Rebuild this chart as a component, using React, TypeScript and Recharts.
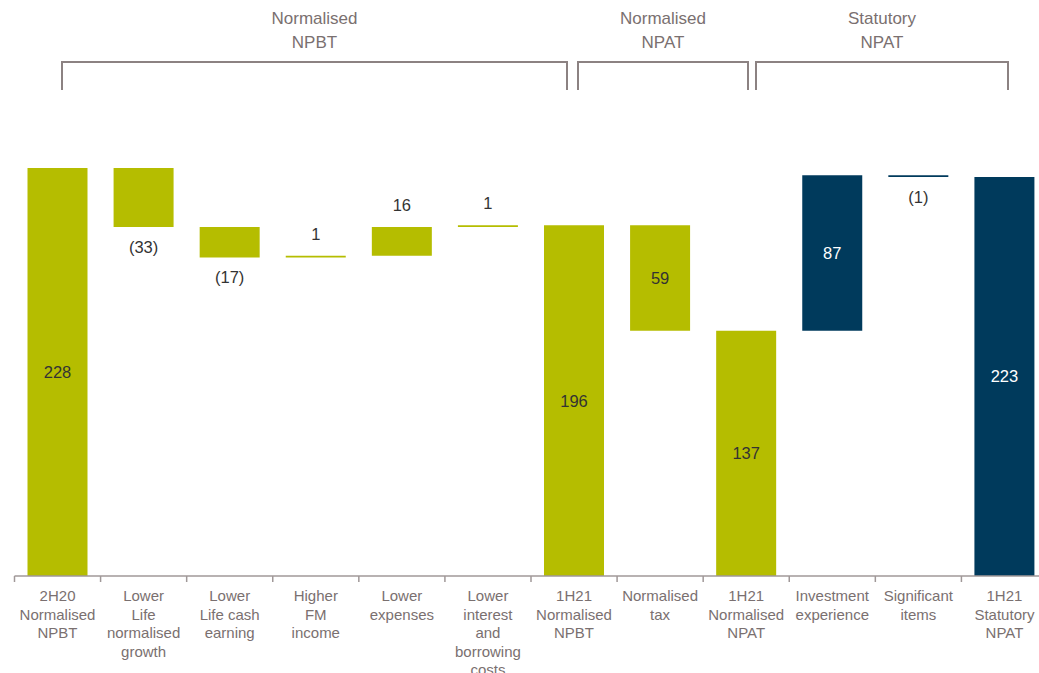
import React from "react";
import { Bar, BarChart, Cell, LabelList, XAxis, YAxis } from "recharts";

const categories = [
  "2H20\nNormalised\nNPBT",
  "Lower\nLife\nnormalised\ngrowth",
  "Lower\nLife cash\nearning",
  "Higher\nFM\nincome",
  "Lower\nexpenses",
  "Lower\ninterest\nand\nborrowing\ncosts",
  "1H21\nNormalised\nNPBT",
  "Normalised\ntax",
  "1H21\nNormalised\nNPAT",
  "Investment\nexperience",
  "Significant\nitems",
  "1H21\nStatutory\nNPAT"
];

// invisible base of each step and the visible amount
const bases = [0, 195, 178, 178, 179, 195, 0, 137, 0, 137, 223, 0];
const amounts = [228, 33, 17, 1, 16, 1, 196, 59, 137, 87, 1, 223];
const labels = ["228", "(33)", "(17)", "1", "16", "1", "196", "59", "137", "87", "(1)", "223"];
const labelPlaces = ["inside", "below", "below", "above", "above", "above", "inside", "inside", "inside", "inside", "below", "inside"];
const barColors = ["#b5bd00", "#b5bd00", "#b5bd00", "#b5bd00", "#b5bd00", "#b5bd00", "#b5bd00", "#b5bd00", "#b5bd00", "#003a5c", "#003a5c", "#003a5c"];

const groups = [
  { top: "Normalised", bottom: "NPBT", from: 62, to: 567 },
  { top: "Normalised", bottom: "NPAT", from: 578, to: 748 },
  { top: "Statutory", bottom: "NPAT", from: 756, to: 1008 }
];

const data = categories.map((name, i) => ({
  name,
  base: bases[i],
  amount: amounts[i]
}));

const FONT = "'Liberation Sans', Arial, sans-serif";
const CHART_W = 1060;
const MARGIN = { top: 168, right: 12.5, bottom: 67, left: 14.5 };
const BAND = (CHART_W - MARGIN.left - MARGIN.right) / categories.length;

function CategoryTick(props: any) {
  const { x, y, payload } = props;
  const lines = String(payload.value).split("\n");
  const left = x - BAND / 2;
  return (
    <g>
      <line x1={left} x2={left} y1={y} y2={y + 6} stroke="#a09898" strokeWidth={1.5} />
      <text x={x} y={y + 25} textAnchor="middle" fontSize={15} fontFamily={FONT} fill="#7a7070">
        {lines.map((line, i) => (
          <tspan key={i} x={x} dy={i === 0 ? 0 : 18.5}>
            {line}
          </tspan>
        ))}
      </text>
    </g>
  );
}

function StepLabel(props: any) {
  const { x, y, width, height, index } = props;
  const place = labelPlaces[index];
  const cx = x + width / 2;
  let cy = y + height / 2;
  if (place === "above") cy = y - 22;
  if (place === "below") cy = y + height + 20;
  const fill = place === "inside" && barColors[index] === "#003a5c" ? "#ffffff" : "#333333";
  return (
    <text x={cx} y={cy} dy={6} textAnchor="middle" fontSize={16.5} fontFamily={FONT} fill={fill}>
      {labels[index]}
    </text>
  );
}

export default function App() {
  return (
    <div style={{ position: "absolute", left: 0, top: 0, width: 1039, height: 673, overflow: "hidden", background: "#fff" }}>
      <BarChart width={CHART_W} height={673} data={data} margin={MARGIN} barSize={60}>
        <XAxis
          dataKey="name"
          interval={0}
          tickLine={false}
          tickSize={0}
          tickMargin={0}
          axisLine={{ stroke: "#a09898", strokeWidth: 1.5 }}
          tick={<CategoryTick />}
        />
        <YAxis hide domain={[0, 228]} allowDataOverflow />
        <Bar dataKey="base" stackId="w" fill="transparent" isAnimationActive={false} />
        <Bar dataKey="amount" stackId="w" isAnimationActive={false}>
          {data.map((d, i) => (
            <Cell key={d.name} fill={barColors[i]} />
          ))}
          <LabelList dataKey="amount" content={<StepLabel />} />
        </Bar>
      </BarChart>
      <svg width={1039} height={100} style={{ position: "absolute", left: 0, top: 0 }}>
        {groups.map((g) => {
          const mid = (g.from + g.to) / 2;
          return (
            <g key={g.from}>
              <polyline
                points={`${g.from},90 ${g.from},62 ${g.to},62 ${g.to},90`}
                fill="none"
                stroke="#8c8282"
                strokeWidth={2}
              />
              <text x={mid} y={24} textAnchor="middle" fontSize={17} fontFamily={FONT} fill="#7a7070">
                {g.top}
              </text>
              <text x={mid} y={48} textAnchor="middle" fontSize={17} fontFamily={FONT} fill="#7a7070">
                {g.bottom}
              </text>
            </g>
          );
        })}
      </svg>
    </div>
  );
}
